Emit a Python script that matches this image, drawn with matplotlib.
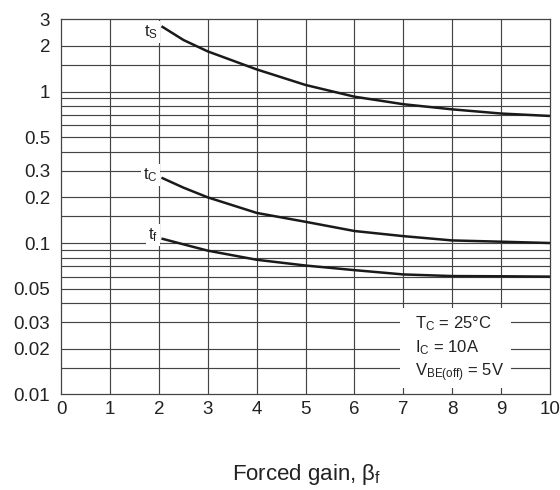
import matplotlib
matplotlib.use("Agg")
import matplotlib.pyplot as plt
from matplotlib.patches import Rectangle

plt.rcParams['font.family'] = ['Liberation Sans', 'DejaVu Sans']
plt.rcParams['mathtext.fontset'] = 'custom'
plt.rcParams['mathtext.rm'] = 'Liberation Sans'
plt.rcParams['mathtext.it'] = 'Liberation Sans:italic'

# Data
gain = [2.05, 2.5, 3, 4, 5, 6, 7, 8, 9, 10]
ts = [2.7, 2.19, 1.84, 1.40, 1.105, 0.925, 0.825, 0.763, 0.716, 0.69]
tc = [0.27, 0.232, 0.2, 0.158, 0.138, 0.12, 0.111, 0.104, 0.102, 0.1]
tf = [0.107, 0.098, 0.089, 0.0775, 0.071, 0.0662, 0.062, 0.0605, 0.0603, 0.06]

y_ticks = [3, 2, 1, 0.5, 0.3, 0.2, 0.1, 0.05, 0.03, 0.02, 0.01]
y_ticklabels = ['3', '2', '1', '0.5', '0.3', '0.2', '0.1', '0.05', '0.03', '0.02', '0.01']
y_grid = [0.015, 0.02, 0.03, 0.04, 0.05, 0.06, 0.07, 0.08, 0.09, 0.1,
          0.15, 0.2, 0.3, 0.4, 0.5, 0.6, 0.7, 0.8, 0.9, 1, 1.5, 2]
x_ticks = list(range(0, 11))

fig = plt.figure(figsize=(5.6, 4.9), dpi=100)
ax = fig.add_axes([0.1095, 0.195, 0.8725, 0.7656])
ax.set_yscale('log')
ax.set_xlim(0, 10)
ax.set_ylim(0.01, 3)

gc = '#444444'
for v in y_grid:
    ax.axhline(v, color=gc, lw=0.85, zorder=1)
for v in x_ticks[1:-1]:
    ax.axvline(v, color=gc, lw=0.85, zorder=1)

# white box for conditions
ax.add_patch(Rectangle((6.93, 0.0111), 9.2 - 6.93, 0.0375 - 0.0111,
                       facecolor='white', edgecolor='none', zorder=2))

lc = '#1a1a1a'
ax.plot(gain, ts, color=lc, lw=1.8, zorder=3, solid_capstyle='butt')
ax.plot(gain, tc, color=lc, lw=1.8, zorder=3, solid_capstyle='butt')
ax.plot(gain, tf, color=lc, lw=1.8, zorder=3, solid_capstyle='butt')

bb = dict(facecolor='white', edgecolor='none', pad=1.5)
ax.text(1.98, 2.47, r't$_\mathrm{S}$', ha='right', va='center', fontsize=12, color='#222', bbox=bb, zorder=4)
ax.text(1.98, 0.28, r't$_\mathrm{C}$', ha='right', va='center', fontsize=12, color='#222', bbox=bb, zorder=4)
ax.text(1.98, 0.113, r't$_\mathrm{f}$', ha='right', va='center', fontsize=12, color='#222', bbox=bb, zorder=4)

ax.text(7.23, 0.0275, r'T$_\mathrm{C}$ = 25°C', ha='left', va='baseline', fontsize=12, color='#222', zorder=4)
ax.text(7.23, 0.0189, r'I$_\mathrm{C}$ = 10A', ha='left', va='baseline', fontsize=12, color='#222', zorder=4)
ax.text(7.23, 0.0132, r'V$_\mathrm{BE(off)}$ = 5V', ha='left', va='baseline', fontsize=12, color='#222', zorder=4)

ax.set_yticks(y_ticks)
ax.set_yticklabels(y_ticklabels)
ax.yaxis.set_minor_locator(matplotlib.ticker.NullLocator())
ax.set_xticks(x_ticks)
ax.tick_params(axis='y', length=0, pad=8, labelsize=13.5, labelcolor='#222')
ax.tick_params(axis='x', length=0, pad=5, labelsize=13.5, labelcolor='#222')
for s in ax.spines.values():
    s.set_color(gc)
    s.set_linewidth(0.9)

fig.text(0.547, 0.02, r'Forced gain, β$_\mathrm{f}$', ha='center', va='baseline', fontsize=16, color='#222')

fig.savefig('out.png', dpi=100)
